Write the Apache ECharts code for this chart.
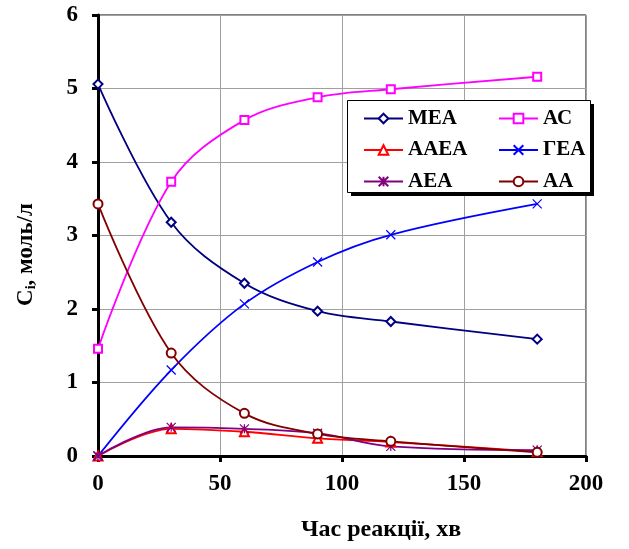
<!DOCTYPE html>
<html><head><meta charset="utf-8">
<script src="https://cdn.jsdelivr.net/npm/echarts@6/dist/echarts.min.js"></script>
<style>html,body{margin:0;padding:0;background:#fff}#c{width:629px;height:549px}</style>
</head><body><div id="c"></div>
<script>
const times = [0, 30, 60, 90, 120, 180];
const MEA  = [5.06, 3.18, 2.35, 1.97, 1.83, 1.59];
const AC   = [1.46, 3.73, 4.57, 4.88, 4.99, 5.16];
const AAEA = [0, 0.37, 0.33, 0.24, 0.19, 0.06];
const GEA  = [0, 1.17, 2.07, 2.64, 3.01, 3.43];
const AEA  = [0, 0.39, 0.37, 0.31, 0.13, 0.08];
const AA   = [3.43, 1.40, 0.58, 0.30, 0.20, 0.05];
const names = ['МЕА', 'АС', 'ААЕА', 'ГЕА', 'АЕА', 'АА'];
const xTicks = [0, 50, 100, 150, 200];
const yTicks = [0, 1, 2, 3, 4, 5, 6];

const FONT = '"Liberation Serif", "Times New Roman", serif';
const crossPath = 'path://M0,0L10,10M10,0L0,10';
const starPath = 'path://M0,0L10,10M10,0L0,10M5,0L5,10';
const pair = arr => times.map((t, i) => [t, arr[i]]);

function mk(name, data, color, symbol, size) {
  return {
    name, type: 'line', data: pair(data), smooth: 0.35,
    symbol, symbolSize: size, showSymbol: true,
    lineStyle: { color, width: 1.8 },
    itemStyle: { color, borderColor: color, borderWidth: 1.2 },
    emphasis: { disabled: true }
  };
}

const chart = echarts.init(document.getElementById('c'), null, { renderer: 'canvas' });
const legendText = { fontFamily: FONT, fontWeight: 'bold', fontSize: 21, color: '#000', lineHeight: 20 };
const tickFont = { fontFamily: FONT, fontWeight: 'bold', fontSize: 23, color: '#000' };
chart.setOption({
  animation: false,
  backgroundColor: '#fff',
  grid: { left: 98, right: 43, top: 15, bottom: 93, show: true, borderColor: '#000', borderWidth: 1 },
  graphic: [
    { type: 'rect', left: 351, top: 104, z: 5, shape: { width: 243, height: 92 }, style: { fill: '#000' } },
    { type: 'rect', left: 347, top: 100, z: 6, shape: { width: 243, height: 92 }, style: { fill: '#fff', stroke: '#000', lineWidth: 1 } }
  ],
  legend: [
    { data: [names[0], names[2], names[4]], orient: 'vertical', left: 363, top: 108, padding: 0, itemWidth: 39, itemHeight: 12, itemGap: 10.5, textStyle: legendText, z: 10, selectedMode: false },
    { data: [names[1], names[3], names[5]], orient: 'vertical', left: 498, top: 108, padding: 0, itemWidth: 39, itemHeight: 12, itemGap: 10.5, textStyle: legendText, z: 10, selectedMode: false }
  ],
  xAxis: {
    type: 'value', min: xTicks[0], max: xTicks[xTicks.length - 1], interval: 50,
    axisLine: { show: true, lineStyle: { color: '#000', width: 3 } },
    axisTick: { show: true, length: 6, lineStyle: { color: '#000', width: 3 } },
    axisLabel: Object.assign({ margin: 17 }, tickFont),
    splitLine: { show: true, lineStyle: { color: '#a0a0a0', width: 1 } },
    name: 'Час реакції, хв', nameLocation: 'middle', nameGap: 62,
    nameTextStyle: { fontFamily: FONT, fontWeight: 'bold', fontSize: 24, color: '#000', padding: [0, 0, 0, 78] }
  },
  yAxis: {
    type: 'value', min: yTicks[0], max: yTicks[yTicks.length - 1], interval: 1,
    axisLine: { show: true, lineStyle: { color: '#000', width: 3 } },
    axisTick: { show: true, length: 6, lineStyle: { color: '#000', width: 3 } },
    axisLabel: Object.assign({ margin: 20 }, tickFont),
    splitLine: { show: true, lineStyle: { color: '#a0a0a0', width: 1 } },
    name: '{a|C}{s|i}{a|, моль/л}', nameLocation: 'middle', nameGap: 60, nameRotate: 90,
    nameTextStyle: {
      padding: [0, 38, 0, 0],
      rich: {
        a: { fontFamily: FONT, fontWeight: 'bold', fontSize: 23, color: '#000' },
        s: { fontFamily: FONT, fontWeight: 'bold', fontSize: 14, color: '#000', verticalAlign: 'bottom', padding: [10, 0, 0, 0] }
      }
    }
  },
  series: [
    mk(names[0], MEA, '#000080', 'emptyDiamond', 9),
    mk(names[1], AC, '#ff00ff', 'emptyRect', 8),
    mk(names[2], AAEA, '#ff0000', 'emptyTriangle', 9),
    mk(names[3], GEA, '#0000ff', crossPath, 9),
    mk(names[4], AEA, '#800080', starPath, 9),
    mk(names[5], AA, '#800000', 'emptyCircle', 9)
  ]
});
</script>
</body></html>
